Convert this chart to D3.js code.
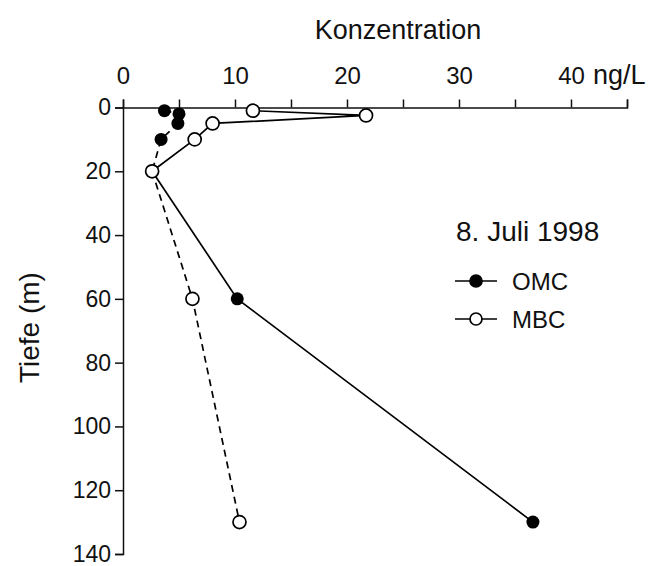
<!DOCTYPE html>
<html>
<head>
<meta charset="utf-8">
<script src="https://cdn.jsdelivr.net/npm/d3@7"></script>
<style>
  body { margin: 0; background: #fff; }
  svg text { font-family: "Liberation Sans", Arial, Helvetica, sans-serif; fill: #111; }
  .axis path, .axis line { stroke: #111; stroke-width: 1.5; }
</style>
</head>
<body>
<div id="chart"></div>
<script>
const width = 649;
const height = 566;

// Konzentration (ng/L) vs Tiefe (m), 8. Juli 1998
const omcDepth = [1, 2, 5, 10, 20, 60, 130];
const omcConc = [3.7, 5.0, 4.9, 3.4, 2.6, 10.2, 36.6];
const mbcDepth = [1, 2.5, 5, 10, 20, 60, 130];
const mbcConc = [11.6, 21.7, 8.0, 6.4, 2.6, 6.2, 10.4];

const xTicks = [0, 5, 10, 15, 20, 25, 30, 35, 40, 45];
const xTickLabels = ["0", "", "10", "", "20", "", "30", "", "40", ""];
const yTicks = [0, 20, 40, 60, 80, 100, 120, 140];

const margin = { left: 123, top: 107.5, right: 22, bottom: 12 };

const x = d3.scaleLinear().domain([0, 45]).range([margin.left, width - margin.right]);
const y = d3.scaleLinear().domain([0, 140]).range([margin.top, height - margin.bottom]);

const svg = d3
  .select("#chart")
  .append("svg")
  .attr("width", width)
  .attr("height", height);

// x axis on top
svg
  .append("g")
  .attr("class", "axis")
  .attr("transform", `translate(0, ${margin.top})`)
  .call(
    d3.axisTop(x)
      .tickValues(xTicks)
      .tickFormat((d, i) => xTickLabels[i])
      .tickSize(8)
      .tickSizeOuter(8)
      .tickPadding(16)
  )
  .call((g) => g.selectAll("text").style("font-size", "24px"));

svg
  .append("text")
  .attr("x", x(40) + 22)
  .attr("y", margin.top - 24)
  .style("font-size", "27px")
  .text("ng/L");

// y axis
svg
  .append("g")
  .attr("class", "axis")
  .attr("transform", `translate(${margin.left}, 0)`)
  .call(
    d3.axisLeft(y)
      .tickValues(yTicks)
      .tickSize(8)
      .tickSizeOuter(8)
      .tickPadding(4)
  )
  .call((g) => g.selectAll("text").style("font-size", "23px"));

// axis titles
svg
  .append("text")
  .attr("x", 398)
  .attr("y", 39)
  .attr("text-anchor", "middle")
  .style("font-size", "27px")
  .text("Konzentration");

svg
  .append("text")
  .attr("transform", `translate(39, ${y(69)}) rotate(-90)`)
  .attr("text-anchor", "middle")
  .style("font-size", "28px")
  .text("Tiefe (m)");

// lines: upper part (0-20 m) and lower part (20-130 m)
const line = d3
  .line()
  .x((d) => x(d[0]))
  .y((d) => y(d[1]));

const omcPts = omcConc.map((c, i) => [c, omcDepth[i]]);
const mbcPts = mbcConc.map((c, i) => [c, mbcDepth[i]]);
const split = 4;

const segments = [
  { pts: omcPts.slice(0, split + 1), dash: "7,5" },
  { pts: omcPts.slice(split), dash: null },
  { pts: mbcPts.slice(0, split + 1), dash: null },
  { pts: mbcPts.slice(split), dash: "7,5" },
];

svg
  .selectAll("path.series")
  .data(segments)
  .enter()
  .append("path")
  .attr("class", "series")
  .attr("d", (d) => line(d.pts))
  .attr("fill", "none")
  .attr("stroke", "#000")
  .attr("stroke-width", 1.7)
  .attr("stroke-dasharray", (d) => d.dash);

svg
  .selectAll("circle.omc")
  .data(omcPts)
  .enter()
  .append("circle")
  .attr("class", "omc")
  .attr("cx", (d) => x(d[0]))
  .attr("cy", (d) => y(d[1]))
  .attr("r", 6.5)
  .attr("fill", "#000");

svg
  .selectAll("circle.mbc")
  .data(mbcPts)
  .enter()
  .append("circle")
  .attr("class", "mbc")
  .attr("cx", (d) => x(d[0]))
  .attr("cy", (d) => y(d[1]))
  .attr("r", 6.5)
  .attr("fill", "#fff")
  .attr("stroke", "#000")
  .attr("stroke-width", 1.7);

// legend
const legend = svg.append("g").attr("transform", "translate(455, 0)");

legend
  .append("text")
  .attr("x", 1)
  .attr("y", 241)
  .style("font-size", "28px")
  .text("8. Juli 1998");

const legendItems = [
  { name: "OMC", fill: "#000", y: 281 },
  { name: "MBC", fill: "#fff", y: 319 },
];

const item = legend
  .selectAll("g.item")
  .data(legendItems)
  .enter()
  .append("g")
  .attr("class", "item")
  .attr("transform", (d) => `translate(0, ${d.y})`);

item
  .append("line")
  .attr("x1", 0)
  .attr("x2", 42)
  .attr("stroke", "#000")
  .attr("stroke-width", 1.7);

item
  .append("circle")
  .attr("cx", 21)
  .attr("r", 6)
  .attr("fill", (d) => d.fill)
  .attr("stroke", "#000")
  .attr("stroke-width", 1.7);

item
  .append("text")
  .attr("x", 57)
  .attr("dy", "0.36em")
  .style("font-size", "24px")
  .text((d) => d.name);
</script>
</body>
</html>
